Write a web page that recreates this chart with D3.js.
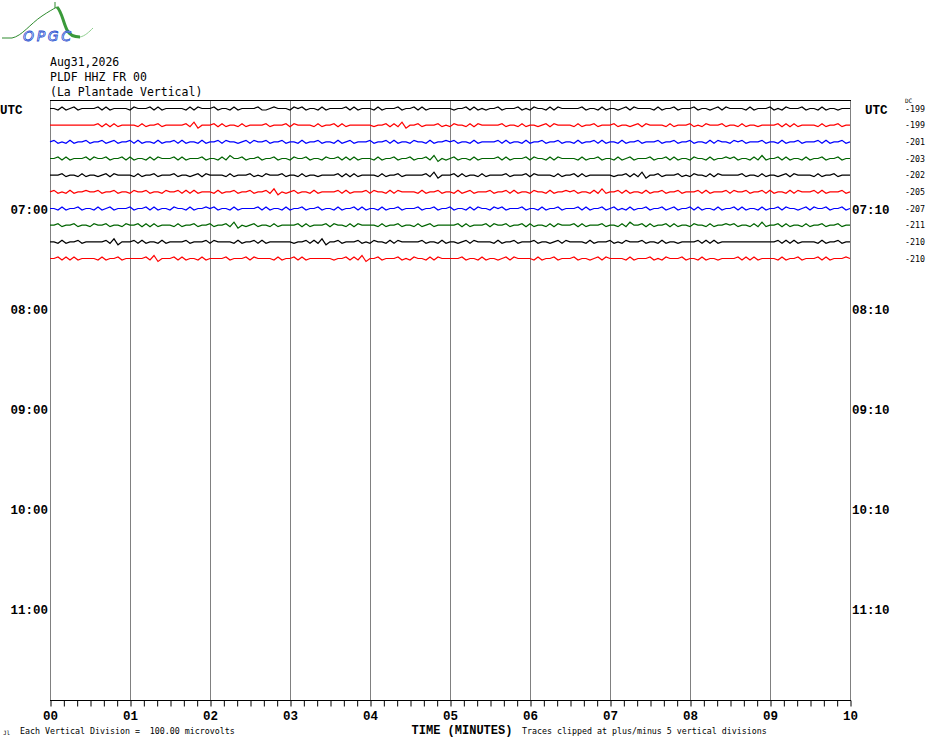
<!DOCTYPE html>
<html>
<head>
<meta charset="utf-8">
<title>PLDF HHZ FR 00 helicorder</title>
<script src="https://cdn.jsdelivr.net/npm/d3@7/dist/d3.min.js"></script>
<style>
body { margin: 0; background: #fff; }
text { font-family: "DejaVu Sans Mono", "Liberation Mono", monospace; fill: #000; white-space: pre; }
.big { font-family: "Liberation Mono", "DejaVu Sans Mono", monospace; font-weight: bold; font-size: 12.5px; }
.small { font-size: 8.3px; }
</style>
</head>
<body>
<script>
// header lines
var header = ["Aug31,2026", "PLDF HHZ FR 00", "(La Plantade Vertical)"];
// one row per 10 minutes, first row starts 06:50 -> labelled UTC
var leftLabels  = ["UTC", "07:00", "08:00", "09:00", "10:00", "11:00"];
var rightLabels = ["UTC", "07:10", "08:10", "09:10", "10:10", "11:10"];
var minuteLabels = ["00","01","02","03","04","05","06","07","08","09","10"];
var dcValues = [-199, -199, -201, -203, -202, -205, -207, -211, -210, -210];
var traceColors = ["#000000", "#ff0000", "#0000ff", "#006400"];

// trace samples, every 3 s; digit 4 = rest level, 0..8 = offset
var traces = [
 "4435345344 4453534444 3544453534 4444353544 4534435344 4453345444 3545344353 4444535344 4353444534 4535344444 4344535343 4453444534 3544353544 4445344353 4434535444 4353445344 4534434535 4444353444 5343544453 4435344344 4",
 "4444444444 4453535344 4435344534 4444536244 4535344353 4444534445 3544443534 4535344444 4344535362 4453444534 3544353544 4445344353 4434535444 4353445344 4534434535 4444353444 5343544453 4435344344 4453535344 4435344534 4",
 "4534353445 3445345344 5353443534 4535344353 4453544345 3544534453 4435344534 4353453444 5344535344 3544353445 4534435344 4453534435 3445344534 4353445353 4435344534 4453445344 5344353544 3545344453 4435344534 4453534453 4",
 "4453534445 3544534453 5344353544 4535344453 4435364453 4453445344 3544534435 4453535344 4353445344 5344536243 4534435344 4453534445 3544353544 4435344534 4353453444 5344535344 3544353445 4534435363 4453534435 3445344534 4",
 "4445344353 4434535444 4353445344 4534434535 4444353444 5343544453 4435344344 4453535344 4435344534 4444536244 4535344353 4444534445 3544443534 4535344444 4344535362 4453444534 3544353544 4445344353 4434535444 4353445344 4",
 "4534353445 4453445344 3544534435 4453535344 4353445344 5344536243 4534435344 4453534445 3544353544 4435344534 4353453444 5344535344 3544353445 4534435363 4453534435 3445344534 4453534445 3544534453 5344353544 4535344453 4",
 "4435344534 4353453444 5344535344 3544353445 4534435344 4453534435 3445344534 4353445353 4435344534 4453445344 5344353544 3545344453 4435344534 4453534453 4534353445 3445345344 5353443534 4535344353 4453544345 3544534453 4",
 "4453445344 3544534435 4453535344 4353445344 5344536243 4534435344 4453534445 3544353544 4435344534 4353453444 4453534445 3544534453 5344353544 4535344453 4435364453 5344535344 3544353445 4534435363 4453534435 3445344534 4",
 "4435344534 4444536244 4535344353 4444534445 3544443534 4535344444 4344535362 4453444534 3544353544 4445344353 4434535444 4353445344 4534434535 4444353444 5343544453 4435344344 4453535344 4444444444 4453535344 4435344534 4",
 "4453535344 4435344534 4444536244 4535344353 4444534445 3544443534 4535344444 4344535362 4453444534 3544353544 4445344353 4434535444 4353445344 4534434535 4444353444 5343544453 4435344344 4453535344 4435344534 4453534445 4"
];

var W = 930, H = 744;
var svg = d3.select("body").append("svg").attr("width", W).attr("height", H);

var x = d3.scaleLinear().domain([0, 10]).range([50, 850]);
// rows of 10 minutes, 36 rows would fill 6 hours
var row = d3.scaleLinear().domain([0, 36]).range([108.5, 708.5]);
var amp = d3.scaleLinear().domain([-4, 4]).range([6, -6]);

// logo
var logo = svg.append("g");
logo.append("path")
  .attr("d", "M2,38 L12,38 C22,36 30,24 42,16 C48,12 53,9 57,7")
  .attr("fill", "none").attr("stroke", "#2e8b2e").attr("stroke-width", 1);
logo.append("path")
  .attr("d", "M57,7 C62,12 63,22 67,30 C70,36 75,37 80,37")
  .attr("fill", "none").attr("stroke", "#3a9a3a").attr("stroke-width", 3);
logo.append("path")
  .attr("d", "M80,37 C85,36 89,32 93,28")
  .attr("fill", "none").attr("stroke", "#8fcf8f").attr("stroke-width", 1);
logo.append("line").attr("x1", 55).attr("x2", 55).attr("y1", 2).attr("y2", 8)
  .attr("stroke", "#2e8b2e");
logo.append("text").attr("x", 23).attr("y", 41)
  .style("font-family", "DejaVu Sans").style("font-style", "italic")
  .style("font-size", "14px").style("fill", "#fff")
  .attr("stroke", "#1f4fd0").attr("stroke-width", 0.8)
  .attr("textLength", 48).text("OPGC");

// header
svg.selectAll("text.head").data(header).enter().append("text")
  .attr("class", "head")
  .attr("x", 50).attr("y", function(d, i){ return 66 + i * 15; })
  .style("font-size", "11.5px")
  .text(function(d){ return d; });

// vertical minute grid
svg.selectAll("line.grid").data(d3.range(0, 11)).enter().append("line")
  .attr("class", "grid")
  .attr("x1", function(d){ return x(d) + 0.5; }).attr("x2", function(d){ return x(d) + 0.5; })
  .attr("y1", 100).attr("y2", 700)
  .attr("stroke", "#808080").attr("stroke-width", 1);

// top border
svg.append("line").attr("x1", 50).attr("x2", 851).attr("y1", 100.5).attr("y2", 100.5)
  .attr("stroke", "#000");

// bottom axis with 10 s ticks
var axis = d3.axisBottom(x)
  .tickValues(d3.range(0, 61).map(function(d){ return d / 6; }))
  .tickSize(6).tickFormat("");
var ax = svg.append("g").attr("transform", "translate(0.5,700.5)").call(axis);
ax.select(".domain").remove();
ax.selectAll("line").attr("stroke", "#000");
svg.append("line").attr("x1", 50).attr("x2", 851).attr("y1", 700.5).attr("y2", 700.5)
  .attr("stroke", "#000");

svg.selectAll("text.min").data(minuteLabels).enter().append("text")
  .attr("class", "big min")
  .attr("x", function(d, i){ return x(i) + 0.5; }).attr("y", 720)
  .attr("text-anchor", "middle")
  .text(function(d){ return d; });

svg.append("text").attr("class", "big").attr("x", 462).attr("y", 734)
  .style("font-size", "12px")
  .attr("text-anchor", "middle").text("TIME (MINUTES)");
svg.append("text").attr("class", "small").attr("x", 20).attr("y", 734)
  .text("Each Vertical Division =  100.00 microvolts");
svg.append("text").attr("class", "small").attr("x", 522).attr("y", 734)
  .text("Traces clipped at plus/minus 5 vertical divisions");
svg.append("text").attr("x", 3).attr("y", 735).style("font-size", "6px").text("Jl");

// hour labels, one per 6 rows
svg.selectAll("text.lh").data(leftLabels).enter().append("text")
  .attr("class", "big lh")
  .attr("x", function(d){ return d == "UTC" ? 0 : 48; })
  .attr("text-anchor", function(d){ return d == "UTC" ? "start" : "end"; })
  .attr("y", function(d, i){ return row(i * 6) + 5; })
  .text(function(d){ return d; });
svg.selectAll("text.rh").data(rightLabels).enter().append("text")
  .attr("class", "big rh")
  .attr("x", function(d){ return d == "UTC" ? 865 : 852; })
  .attr("y", function(d, i){ return row(i * 6) + 5; })
  .text(function(d){ return d; });

// DC offsets
svg.append("text").attr("x", 905).attr("y", 103).style("font-size", "6px").text("DC");
svg.selectAll("text.dc").data(dcValues).enter().append("text")
  .attr("class", "small dc")
  .attr("x", 905).attr("y", function(d, i){ return row(i) + (i == 0 ? 3.5 : 3); })
  .text(function(d){ return d; });

// traces
var line = d3.line()
  .x(function(d){ return x(d.t); })
  .y(function(d){ return d.y; });

traces.forEach(function(s, k){
  var vals = s.replace(/ /g, "").split("").map(Number);
  var n = vals.length;
  var pts = vals.map(function(v, i){
    return { t: i * 10 / (n - 1), y: row(k) + amp(v - 4) };
  });
  svg.append("path").datum(pts)
    .attr("d", line)
    .attr("fill", "none")
    .attr("stroke", traceColors[k % 4])
    .attr("stroke-width", 1.2);
});
</script>
</body>
</html>
